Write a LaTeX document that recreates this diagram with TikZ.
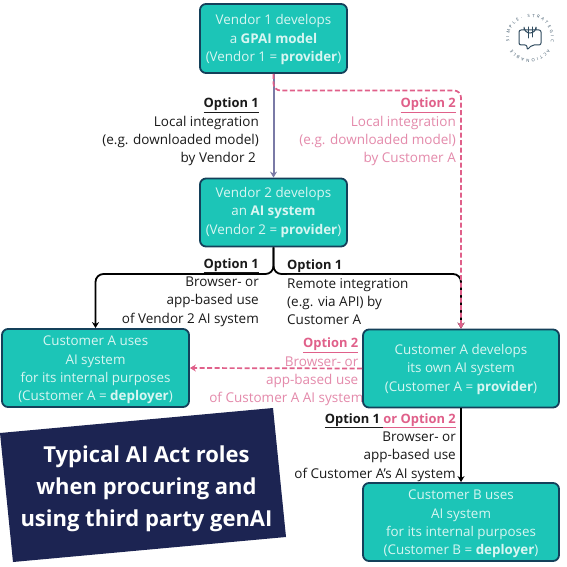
\documentclass[tikz,border=0pt]{standalone}
\usepackage{fontspec}
\setmainfont{Open Sans}
\usetikzlibrary{arrows.meta,decorations.text}
\definecolor{teal1}{HTML}{1CC5B7}
\definecolor{edge1}{HTML}{14405A}
\definecolor{navy1}{HTML}{1C2452}
\definecolor{pink1}{HTML}{E0608A}
\definecolor{pinkt}{HTML}{E48AAB}
\definecolor{purp}{HTML}{7A7AA6}
\definecolor{boxt}{HTML}{D8F6F2}
\definecolor{ink}{HTML}{1A1A1A}
\definecolor{logoc}{HTML}{2F4A5E}
\tikzset{
 x=1pt,y=-1pt,
 box/.style={draw=edge1,line width=1.8pt,fill=teal1,rounded corners=6pt,text=boxt,align=center,font=\fontsize{13.4}{18.4}\selectfont,inner sep=0pt},
 lab/.style={text=ink,font=\fontsize{13.5}{18.4}\selectfont,inner sep=0pt},
 labp/.style={lab,text=pinkt},
 tip/.style={-{Stealth[length=6pt,width=7pt]}},
 conn/.style={line width=1.8pt,draw=black,tip},
 connp/.style={line width=1.7pt,draw=pink1,dash pattern=on 5pt off 2.5pt,tip},
 connv/.style={line width=2pt,draw=purp,tip},
 logotext/.style={decorate,decoration={text along path,text align=fit to path,text={|\fontsize{4.2}{5}\selectfont\color{logoc}|#1}}},
}
\newcommand{\opt}[1]{\textbf{\fontsize{12.9}{18.4}\selectfont\underline{#1}}}
\newcommand{\optp}[1]{\textcolor{pink1}{\textbf{\fontsize{12.9}{18.4}\selectfont\underline{#1}}}}
\newcommand{\tl}[1]{\rule{0pt}{#1pt}}
\begin{document}
\begin{tikzpicture}
\useasboundingbox (0,0) rectangle (567,567);
\fill[white] (0,0) rectangle (567,567);
% label partly hidden by the box
\node[labp,anchor=east,align=right] (l5) at (358.5,372) {\optp{Option 2}\\Browser- or\hspace*{3pt}\\app-based use\hspace*{3pt}\\of Customer A AI system\hspace*{-5pt}};
\node[box,minimum width=147pt,minimum height=69pt] (v1) at (273.5,38.5) {\tl{13}Vendor 1 develops\\a \textbf{GPAI model}\\(Vendor 1 = \textbf{provider})};
\node[box,minimum width=147pt,minimum height=68pt] (v2) at (273.5,212.5) {Vendor 2 develops\\an \textbf{AI system}\\(Vendor 2 = \textbf{provider})};
\node[box,minimum width=187pt,minimum height=78pt] (ca) at (95.5,368) {\tl{14}Customer A uses\\AI system\\for its internal purposes\\(Customer A = \textbf{deployer})};
\node[box,minimum width=196pt,minimum height=78pt] (cd) at (461,368.5) {\tl{12}Customer A develops\\its own AI system\\(Customer A = \textbf{provider})};
\node[box,minimum width=196pt,minimum height=78pt] (cb) at (461,522) {\tl{14}Customer B uses\\AI system\\for its internal purposes\\(Customer B = \textbf{deployer})};
% connectors
\draw[connv] (v1.south) -- (v2.north);
\draw[conn,rounded corners=8pt] (v2.south) |- (95.5,274) -- (ca.north);
\draw[conn,rounded corners=8pt] (v2.south) |- (461,274) -- (cd.north);
\draw[connp,rounded corners=7pt] (v1.south) |- (461,90.5) -- (cd.north);
\draw[connp] (cd.west) -- (ca.east);
\draw[conn] (cd.south) -- (cb.north);
% labels
\node[lab,anchor=east,align=right] (l1) at (259,132) {\opt{Option 1}\\Local integration\hspace*{3pt}\\(e.g. downloaded model)\hspace*{3pt}\\by Vendor 2\hspace*{3pt}};
\node[labp,anchor=east,align=right] (l2) at (456,132) {\optp{Option 2}\\Local integration\\(e.g. downloaded model)\\by Customer A};
\node[lab,anchor=east,align=right] (l3) at (259,292.5) {\opt{Option 1}\\Browser- or\hspace*{3pt}\\app-based use\\of Vendor 2 AI system};
\node[lab,anchor=west,align=left] (l4) at (287,292.5) {\opt{Option 1}\\Remote integration\\(e.g. via API) by\\Customer A};
\node[lab,anchor=east,align=right] (l6) at (456,447.5) {\opt{Option 1 }\optp{or Option 2}\\Browser- or\\app-based use\\of Customer A’s AI system};
% navy banner
\fill[navy1] (0,433) -- (273,408) -- (286,537) -- (13,562) -- cycle;
\node[text=white,align=center,inner sep=0pt,font=\bfseries\fontsize{22}{32}\selectfont] (ttl) at (146.5,489) {Typical AI Act roles\\when procuring and\\using third party genAI};
% logo
\coordinate (lc) at (530,38);
\path[logotext={SIMPLE. STRATEGIC}] (lc) ++(190:21pt) arc[start angle=190,end angle=-10,radius=21pt];
\path[logotext={ACTIONABLE}] (lc) ++(-32:21pt) arc[start angle=-32,end angle=-148,radius=21pt];
\draw[logoc,line width=1pt,rounded corners=2pt,line join=round] (519,30) -- (541,30) -- (541,45) -- (532,45) -- (527,50) -- (527,45) -- (519,45) -- cycle;
\draw[logoc,line width=1pt] (524,30) -- (524,27) arc[start angle=180,end angle=0,radius=6] -- (536,30);
\draw[logoc,line width=1pt,line cap=round] (528,27) -- (528,38) (532,27) -- (532,37);
\end{tikzpicture}
\end{document}
